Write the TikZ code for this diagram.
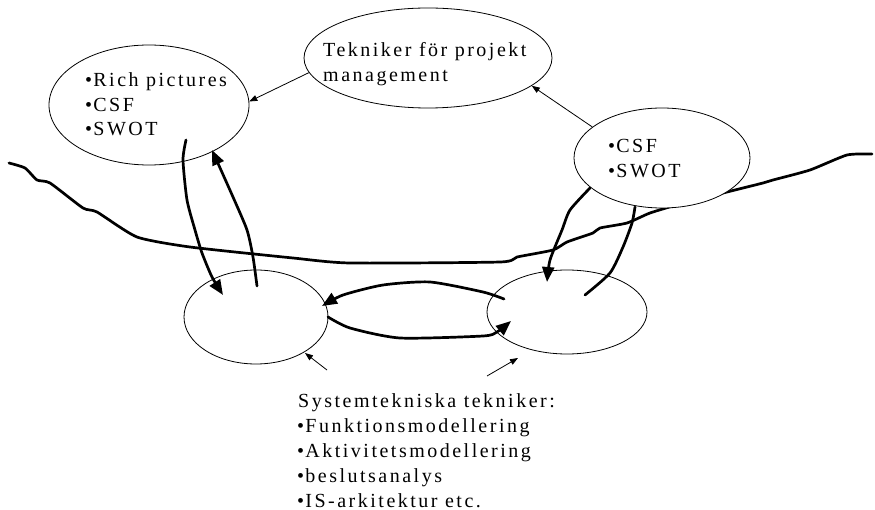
\documentclass[tikz,border=0pt]{standalone}
\usepackage{fontspec}
\setmainfont{Liberation Serif}[LetterSpace=12.5]
\usetikzlibrary{arrows.meta,shapes.geometric}
\newcommand{\itembullet}{•\kern1.2pt}

\begin{document}
\begin{tikzpicture}[x=1pt,y=-1pt,
  oval/.style={ellipse, draw, line width=0.8pt, fill=white, inner sep=0pt},
  txt/.style={anchor=base west, inner sep=0pt, font=\fontsize{20}{25}\selectfont},
  fine/.style={line width=0.8pt, -{Triangle[length=8pt,width=6pt]}},
  hand/.style={line width=2.7pt, line join=round, line cap=round},
  handarrow/.style={hand, -{Triangle[length=15pt,width=12pt]}}]
\useasboundingbox (0,0) rectangle (875,510);

% hand-drawn boundary line across the page
\draw[hand] plot[smooth, tension=0.35] coordinates {
  (9,163) (25,168) (37,180) (50,183) (83,208) (97,212) (137,237) (190,247)
  (293,258) (350,263) (500,262) (517,257) (553,250) (567,242) (593,233)
  (600,228) (627,223) (650,213) (680,204) (723,193) (763,183) (773,180)
  (810,170) (847,155) (872,154)};

% ellipses
\node[oval, minimum width=248pt, minimum height=100pt] (pm) at (428,58) {};
\node[oval, minimum width=200pt, minimum height=120pt] (rp) at (149,105) {};
\node[oval, minimum width=176pt, minimum height=100pt] (cs) at (662,158) {};
\node[oval, minimum width=144pt, minimum height=94pt] (sl) at (256,317) {};
\node[oval, minimum width=160pt, minimum height=84pt] (sr) at (567,312) {};

% texts inside the ellipses
\node[txt] (pm1) at (323,57) {Tekniker för projekt};
\node[txt] (pm2) at (323,82) {management};
\node[txt] (rp1) at (85,87) {\itembullet Rich pictures};
\node[txt] (rp2) at (85,112) {\itembullet CSF};
\node[txt] (rp3) at (85,136) {\itembullet SWOT};
\node[txt] (cs1) at (608,153) {\itembullet CSF};
\node[txt] (cs2) at (608,178) {\itembullet SWOT};

% list below the lower ellipses
\node[txt] (st0) at (298,407) {Systemtekniska tekniker:};
\node[txt] (st1) at (297,432) {\itembullet Funktionsmodellering};
\node[txt] (st2) at (297,457) {\itembullet Aktivitetsmodellering};
\node[txt] (st3) at (297,482) {\itembullet beslutsanalys};
\node[txt] (st4) at (297,507) {\itembullet IS-arkitektur etc.};

% thin arrows between the upper ellipses
\draw[fine] (pm.187.5) -- (rp.2);
\draw[fine] (cs.156.5) -- (pm.345);

% thin pointers from the list to the lower ellipses
\coordinate (pl) at (327,370);
\coordinate (pr) at (487,376);
\draw[fine] (pl) -- (305,353);
\draw[fine] (pr) -- (518,358);

% hand-drawn links between the left ellipses
\coordinate (a1) at (186,140);
\coordinate (a2) at (223,295);
\draw[handarrow] plot[smooth, tension=0.4] coordinates {
  (a1) (183,160) (187,200) (195,230) (202,253) (212,277) (a2)};
\coordinate (b1) at (257,286);
\coordinate (b2) at (212,150);
\draw[handarrow] plot[smooth, tension=0.4] coordinates {
  (b1) (253,257) (247,230) (233,197) (b2)};

% hand-drawn links between the lower ellipses
\coordinate (c1) at (504,299);
\coordinate (c2) at (322,306);
\draw[handarrow] plot[smooth, tension=0.4] coordinates {
  (c1) (483,292) (430,282) (383,285) (343,295) (c2)};
\coordinate (d1) at (328,317);
\coordinate (d2) at (511,321);
\draw[handarrow] plot[smooth, tension=0.4] coordinates {
  (d1) (350,328) (400,338) (483,336) (497,332) (d2)};

% hand-drawn links between the right ellipses
\coordinate (e1) at (590,188);
\coordinate (e2) at (547,282);
\draw[handarrow] plot[smooth, tension=0.4] coordinates {
  (e1) (570,210) (562,230) (550,260) (e2)};
\coordinate (f1) at (585,295);
\coordinate (f2) at (635,207);
\draw[hand] plot[smooth, tension=0.4] coordinates {
  (f1) (610,273) (623,247) (632,223) (f2)};
\end{tikzpicture}
\end{document}
